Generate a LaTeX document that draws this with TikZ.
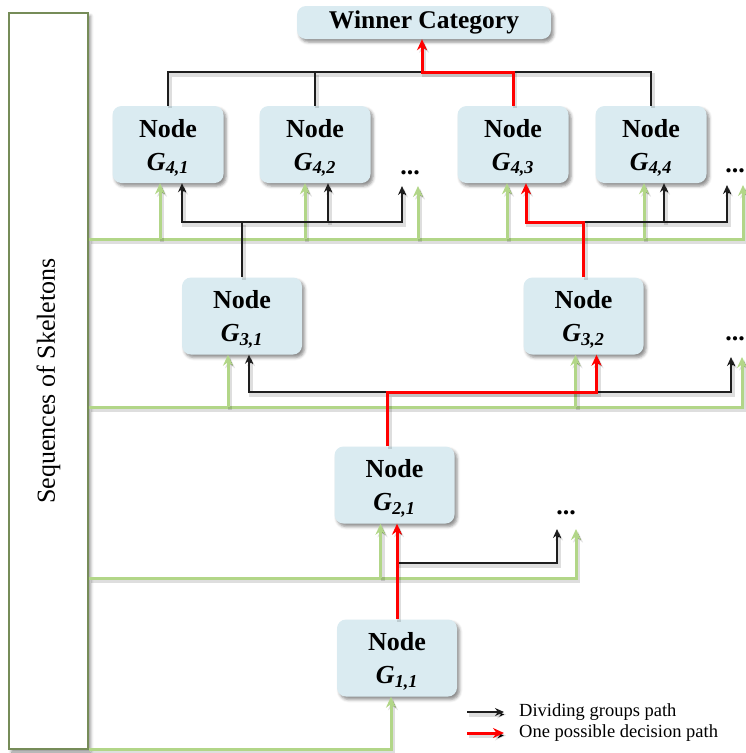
\documentclass[tikz,border=0pt]{standalone}
\usepackage{fontspec}
\setmainfont{Liberation Serif}
\usetikzlibrary{arrows.meta,shadows.blur}

\definecolor{boxfill}{RGB}{218,235,241}
\definecolor{pathgreen}{RGB}{178,214,136}
\definecolor{frameolive}{RGB}{118,140,88}
\definecolor{pathblack}{RGB}{30,30,30}

% two-line node text: "Node" over G_{i,j}
\newcommand{\nodeG}[2]{\rule{0pt}{25pt}Node\\\textit{G\textsubscript{#1,#2}}}

\tikzset{
  btip/.tip={Stealth[length=9pt,width=8pt]},
  ctip/.tip={Stealth[length=11pt,width=10pt]},
  softshade/.style={preaction={draw=black, draw opacity=0.13, line width=4pt,
      transform canvas={xshift=2pt,yshift=-2.5pt}}},
  gbox/.style={fill=boxfill, rounded corners=9pt, minimum width=111pt,
      minimum height=77pt, align=center, inner sep=0pt,
      font=\fontsize{26}{33}\selectfont\bfseries,
      blur shadow={shadow xshift=2.5pt, shadow yshift=-3pt,
        shadow blur radius=3pt, shadow opacity=45}},
  gwide/.style={gbox, minimum width=120pt},
  dots/.style={font=\fontsize{26}{26}\selectfont\bfseries, inner sep=0pt, anchor=base},
  blk/.style={softshade, draw=pathblack, line width=1.6pt},
  blkarr/.style={blk, -btip},
  grn/.style={softshade, draw=pathgreen, line width=3pt},
  grnarr/.style={grn, -ctip},
  rd/.style={softshade, draw=red, line width=3pt},
  rdarr/.style={rd, -ctip},
  legendtext/.style={anchor=west, inner sep=0pt, font=\fontsize{18.5}{18.5}\selectfont},
}

\begin{document}
\begin{tikzpicture}[x=1pt,y=-1pt]
\useasboundingbox (0,0) rectangle (746,753);

% side frame with its vertical caption
\node[draw=frameolive, line width=1.6pt, fill=white, minimum width=79pt,
      minimum height=736pt, inner sep=0pt,
      blur shadow={shadow xshift=2.5pt, shadow yshift=-3pt, shadow blur radius=3pt, shadow opacity=45}]
      (seq) at (48.5,381) {};
\node[rotate=90, font=\fontsize{26}{26}\selectfont] (seqtext) at (seq.center) {Sequences of Skeletons};

% tree nodes
\node[gbox, minimum width=254pt, minimum height=33pt, font=\fontsize{25.5}{25.5}\selectfont\bfseries]
      (win) at (424,22.5) {Winner Category};
\node[gbox] (g41) at (168,144.5) {\nodeG{4}{1}};
\node[gbox] (g42) at (315,144.5) {\nodeG{4}{2}};
\node[gbox] (g43) at (513,144.5) {\nodeG{4}{3}};
\node[gbox] (g44) at (651,144.5) {\nodeG{4}{4}};
\node[gwide] (g31) at (242,316) {\nodeG{3}{1}};
\node[gwide] (g32) at (583.5,316) {\nodeG{3}{2}};
\node[gwide] (g21) at (394.5,485) {\nodeG{2}{1}};
\node[gwide] (g11) at (397,658) {\nodeG{1}{1}};

% continuation marks
\node[dots] (d1) at (410,174) {...};
\node[dots] (d2) at (735,172) {...};
\node[dots] (d3) at (735,340) {...};
\node[dots] (d4) at (566,514) {...};

% arrow ends under the continuation marks
\coordinate (d1k) at (402,186);
\coordinate (d1n) at (418,186);
\coordinate (d2k) at (727,185);
\coordinate (d2n) at (743,185);
\coordinate (d3k) at (731,357);
\coordinate (d3n) at (742,357);
\coordinate (d4k) at (557,529);
\coordinate (d4n) at (576,529);

% horizontal levels of the buses
\coordinate (top) at (0,72);
\coordinate (l4b) at (0,222);
\coordinate (l4g) at (0,239);
\coordinate (l3b) at (0,392);
\coordinate (l3g) at (0,407);
\coordinate (l2b) at (0,563);
\coordinate (l2g) at (0,578);
\coordinate (l1g) at (0,749);

% ---- input buses from the skeleton sequences
\draw[grnarr] (seq.east |- l4g) -- (d2n |- l4g) -- (d2n);
\draw[grnarr] ([xshift=-8pt]g41.south |- l4g) -- ([xshift=-8pt]g41.south);
\draw[grnarr] ([xshift=-10pt]g42.south |- l4g) -- ([xshift=-10pt]g42.south);
\draw[grnarr] (d1n |- l4g) -- (d1n);
\draw[grnarr] ([xshift=-6pt]g43.south |- l4g) -- ([xshift=-6pt]g43.south);
\draw[grnarr] ([xshift=-7pt]g44.south |- l4g) -- ([xshift=-7pt]g44.south);

\draw[grnarr] (seq.east |- l3g) -- (d3n |- l3g) -- (d3n);
\draw[grnarr] ([xshift=-14pt]g31.south |- l3g) -- ([xshift=-14pt]g31.south);
\draw[grnarr] ([xshift=-8pt]g32.south |- l3g) -- ([xshift=-8pt]g32.south);

\draw[grnarr] (seq.east |- l2g) -- (d4n |- l2g) -- (d4n);
\draw[grnarr] ([xshift=-14pt]g21.south |- l2g) -- ([xshift=-14pt]g21.south);

\draw[grnarr] (seq.east |- l1g) -- ([xshift=-6pt]g11.south |- l1g) -- ([xshift=-6pt]g11.south);

% ---- dividing groups paths
\draw[blk] (g41.north) -- (g41.north |- top) -- (g44.north |- top) -- (g44.north);
\draw[blk] (g42.north) -- (g42.north |- top);

\draw[blk, btip-btip] ([xshift=14pt]g41.south) -- ([xshift=14pt]g41.south |- l4b)
      -- (d1k |- l4b) -- (d1k);
\draw[blkarr] ([xshift=13pt]g42.south |- l4b) -- ([xshift=13pt]g42.south);
\draw[blk] (g31.north) -- (g31.north |- l4b);
\draw[blkarr] (g32.north |- l4b) -- (d2k |- l4b) -- (d2k);
\draw[blkarr] ([xshift=13pt]g44.south |- l4b) -- ([xshift=13pt]g44.south);

\draw[blk, btip-btip] ([xshift=7pt]g31.south) -- ([xshift=7pt]g31.south |- l3b)
      -- (d3k |- l3b) -- (d3k);

\draw[blkarr] (g11.north |- l2b) -- (d4k |- l2b) -- (d4k);

% ---- one possible decision path
\draw[rdarr] (g11.north) -- (g11.north |- g21.south);
\draw[rdarr] ([xshift=-7pt]g21.north) -- ([xshift=-7pt]g21.north |- l3b)
      -- ([xshift=13pt]g32.south |- l3b) -- ([xshift=13pt]g32.south);
\draw[rdarr] (g32.north) -- (g32.north |- l4b)
      -- ([xshift=13pt]g43.south |- l4b) -- ([xshift=13pt]g43.south);
\draw[rdarr] (g43.north) -- (g43.north |- top)
      -- ([xshift=-2pt]win.south |- top) -- ([xshift=-2pt]win.south);

% ---- legend
\node[legendtext] (lgk) at (519,712) {Dividing groups path};
\node[legendtext] (lgr) at (519,733) {One possible decision path};
\coordinate (lk) at (467,712);
\coordinate (lr) at (467,733);
\draw[blkarr] (lk) -- ([xshift=-15pt]lgk.west);
\draw[rdarr] (lr) -- ([xshift=-15pt]lgr.west);
\end{tikzpicture}
\end{document}
